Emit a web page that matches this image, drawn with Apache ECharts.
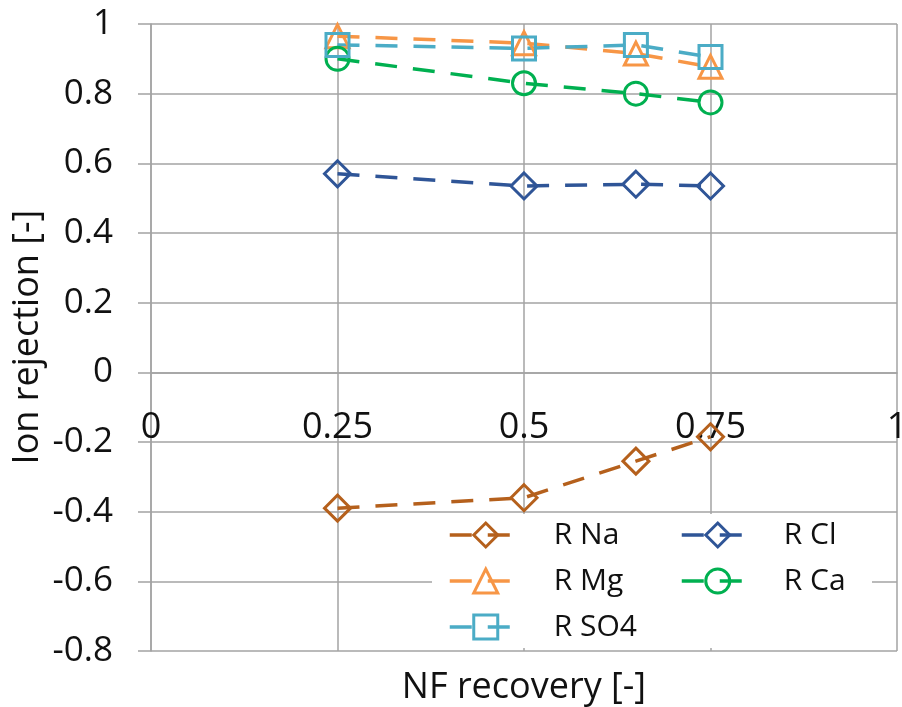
<!DOCTYPE html>
<html>
<head>
<meta charset="utf-8">
<script src="https://cdn.jsdelivr.net/npm/echarts@6/dist/echarts.min.js"></script>
<style>
html,body{margin:0;padding:0;background:#fff;}
#chart{width:902px;height:707px;}
</style>
</head>
<body>
<div id="chart"></div>
<script>
const recovery = [0.25, 0.5, 0.65, 0.75];
const rNa  = [-0.39, -0.36, -0.255, -0.185];
const rCl  = [0.57, 0.535, 0.54, 0.535];
const rMg  = [0.965, 0.945, 0.915, 0.877];
const rCa  = [0.90, 0.83, 0.80, 0.775];
const rSO4 = [0.94, 0.93, 0.94, 0.905];
const xTicks = [0, 0.25, 0.5, 0.75, 1];
const yTicks = [-0.8, -0.6, -0.4, -0.2, 0, 0.2, 0.4, 0.6, 0.8, 1];

const FONT = '"Open Sans", "DejaVu Sans", sans-serif';
const GRID = '#a3a3a3';
const GRID_TOP = 24, GRID_BOTTOM = 56, H = 707;

function mk(name, vals, color, symbol) {
  return {
    name: name,
    type: 'line',
    data: recovery.map((x, i) => [x, vals[i]]),
    symbol: symbol,
    symbolSize: symbol === 'diamond' ? 26 : 23,
    showSymbol: true,
    lineStyle: {color: color, width: 3.5, type: [22, 16]},
    itemStyle: {color: 'rgba(255,255,255,0)', borderColor: color, borderWidth: 3},
    emphasis: {disabled: true},
    z: 5
  };
}

const legendCommon = {
  orient: 'vertical', top: 520, itemWidth: 72, itemHeight: 30, itemGap: 16, padding: 0,
  lineStyle: {width: 3.5},
  itemStyle: {borderWidth: 3}
};

// place x axis line at y = 0 (axis crosses at zero)
const yMin = yTicks[0], yMax = yTicks[yTicks.length - 1];
const plotH = H - GRID_TOP - GRID_BOTTOM;
const zeroOffset = -plotH * (0 - yMin) / (yMax - yMin);

const chart = echarts.init(document.getElementById('chart'), null, {renderer: 'canvas'});
chart.setOption({
  animation: false,
  backgroundColor: '#fff',
  grid: {left: 151, right: 5, top: GRID_TOP, bottom: GRID_BOTTOM, containLabel: false, outerBoundsMode: 'none'},
  xAxis: {
    type: 'value', min: xTicks[0], max: xTicks[xTicks.length - 1], interval: 0.25,
    position: 'bottom', offset: zeroOffset,
    axisLine: {onZero: false, lineStyle: {color: GRID, width: 1.5}},
    axisTick: {show: false},
    splitLine: {show: true, lineStyle: {color: GRID, width: 1.5}},
    axisLabel: {fontFamily: FONT, fontSize: 36, color: '#111', margin: 37,
      formatter: v => String(v)}
  },
  yAxis: {
    type: 'value', min: yMin, max: yMax, interval: 0.2,
    axisLine: {show: true, onZero: false, lineStyle: {color: GRID, width: 1.5}},
    axisTick: {show: true, length: 13, lineStyle: {color: GRID, width: 1.5}},
    splitLine: {show: true, lineStyle: {color: GRID, width: 1.5}},
    axisLabel: {fontFamily: FONT, fontSize: 35, color: '#111', margin: 38,
      formatter: v => String(Math.round(v * 10) / 10)}
  },
  legend: [
    Object.assign({}, legendCommon, {data: ['R Na', 'R Mg', 'R SO4'], left: 448,
     textStyle: {fontFamily: FONT, fontSize: 30, color: '#111', lineHeight: 30, padding: [0, 0, 0, 27]}}),
    Object.assign({}, legendCommon, {data: ['R Cl', 'R Ca'], left: 680,
     textStyle: {fontFamily: FONT, fontSize: 30, color: '#111', lineHeight: 30, padding: [0, 0, 0, 25]}})
  ],
  graphic: {elements: [
    {type: 'rect', z: 3, shape: {x: 432, y: 514, width: 440, height: 134}, style: {fill: '#fff'}},
    {type: 'text', x: 524, y: 688, style: {text: 'NF recovery [-]', font: '36px ' + FONT, fill: '#111', textAlign: 'center', textVerticalAlign: 'middle'}},
    {type: 'text', x: 28, y: 337, rotation: Math.PI / 2, style: {text: 'Ion rejection [-]', font: '36px ' + FONT, fill: '#111', textAlign: 'center', textVerticalAlign: 'middle'}}
  ]},
  series: [
    mk('R Na', rNa, '#b5601c', 'diamond'),
    mk('R Cl', rCl, '#2f5597', 'diamond'),
    mk('R Mg', rMg, '#f79646', 'triangle'),
    mk('R Ca', rCa, '#00b050', 'circle'),
    mk('R SO4', rSO4, '#4bacc6', 'rect')
  ]
});
</script>
</body>
</html>
